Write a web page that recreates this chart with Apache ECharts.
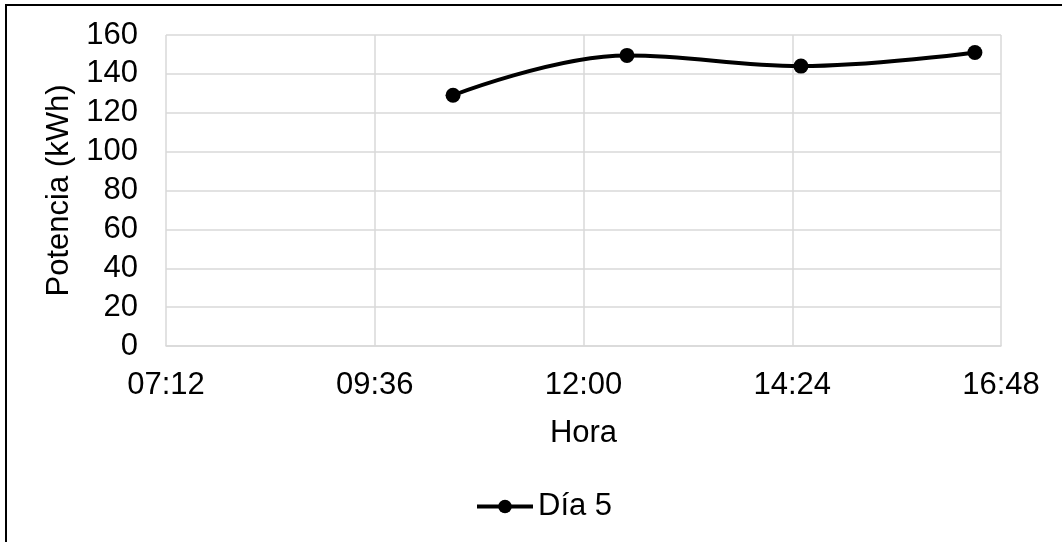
<!DOCTYPE html>
<html>
<head>
<meta charset="utf-8">
<style>
  html, body { margin: 0; padding: 0; background: #ffffff; }
  #chart { width: 1062px; height: 542px; }
</style>
<script src="https://cdn.jsdelivr.net/npm/echarts@6/dist/echarts.min.js"></script>
</head>
<body>
<div id="chart"></div>
<script>
// Readings of day 5: time of day in minutes since midnight, power in kWh
const horas = [630, 750, 870, 990];          // 10:30, 12:30, 14:30, 16:30
const potencia = [129, 149.5, 144, 151];

// Axis ranges (minutes since midnight for the time axis)
const xMin = 432, xMax = 1008, xStep = 144;  // 07:12 .. 16:48 every 2 h 24 min
const yMin = 0, yMax = 160, yStep = 20;

const serieNombre = 'Día 5';
const ejeX = 'Hora';
const ejeY = 'Potencia (kWh)';

const puntos = horas.map((h, i) => [h, potencia[i]]);

function fmtHora(m) {
  const h = Math.floor(m / 60), mm = Math.round(m % 60);
  return String(h).padStart(2, '0') + ':' + String(mm).padStart(2, '0');
}

const font = 'Liberation Sans, Arial, sans-serif';
const fs = 31;
const chart = echarts.init(document.getElementById('chart'), null, { renderer: 'canvas' });
chart.setOption({
  backgroundColor: '#ffffff',
  animation: false,
  graphic: [{
    type: 'rect',
    shape: { x: 6, y: 5, width: 1100, height: 600 },
    style: { fill: 'none', stroke: '#000000', lineWidth: 2 },
    silent: true
  }],
  grid: { left: 166, right: 61, top: 35, height: 311, containLabel: false },
  xAxis: {
    type: 'value',
    min: xMin, max: xMax, interval: xStep,
    name: ejeX, nameLocation: 'middle', nameGap: 72,
    nameTextStyle: { fontFamily: font, fontSize: fs, color: '#000' },
    axisLine: { show: true, lineStyle: { color: '#d9d9d9', width: 1.5 } },
    axisTick: { show: false },
    axisLabel: { formatter: fmtHora, fontFamily: font, fontSize: fs, color: '#000', margin: 24 },
    splitLine: { show: true, lineStyle: { color: '#d9d9d9', width: 1.5 } }
  },
  yAxis: {
    type: 'value',
    min: yMin, max: yMax, interval: yStep,
    name: ejeY, nameLocation: 'middle', nameGap: 90, nameRotate: 90,
    nameTextStyle: { fontFamily: font, fontSize: fs, color: '#000' },
    axisLine: { show: false },
    axisTick: { show: false },
    axisLabel: { fontFamily: font, fontSize: fs, color: '#000', margin: 28 },
    splitLine: { show: true, lineStyle: { color: '#d9d9d9', width: 1.5 } }
  },
  legend: {
    data: [serieNombre],
    top: 486, left: 470,
    itemWidth: 56, itemHeight: 17, itemGap: 4,
    lineStyle: { width: 4 },
    textStyle: { fontFamily: font, fontSize: fs, color: '#000', padding: [0, 0, 0, 0] }
  },
  series: [{
    name: serieNombre,
    type: 'line',
    data: puntos,
    smooth: 0.4,
    symbol: 'circle', symbolSize: 15,
    lineStyle: { color: '#000', width: 4 },
    itemStyle: { color: '#000' }
  }]
});
</script>
</body>
</html>
